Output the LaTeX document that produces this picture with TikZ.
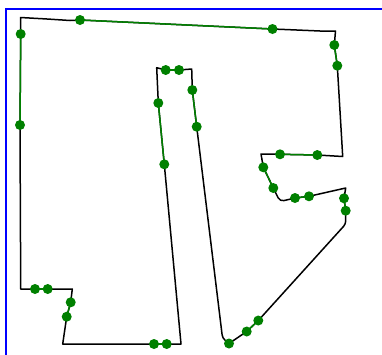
\documentclass[tikz,border=0pt]{standalone}
\definecolor{dotgreen}{RGB}{0,128,0}
\tikzset{
  dotnode/.style={circle,fill=dotgreen,draw=none,minimum size=10pt,inner sep=0pt},
  outline/.style={draw=black,line width=1.5pt,line join=round},
  greenseg/.style={draw=dotgreen,line width=1.5pt},
  frameline/.style={draw=blue,line width=2.2pt}
}
\begin{document}
\begin{tikzpicture}[x=1pt,y=-1pt]
\useasboundingbox (0,0) rectangle (382,354);
\clip (0,0) rectangle (382,354);
\draw[frameline] (6,370) -- (6,9) -- (400,9);
% corner coordinates
\coordinate (c1) at (20.5,17.5);
\coordinate (t1) at (47,19);
\coordinate (t2) at (70,20.5);
\coordinate (t3) at (296.7,30);
\coordinate (t4) at (320,31);
\coordinate (c2) at (335.5,31);
\coordinate (c3) at (342.7,156.5);
\coordinate (c4) at (261,154);
\coordinate (c5) at (280,201.5);
\coordinate (c6) at (345.7,188);
\coordinate (c7) at (345.7,224);
\coordinate (c8) at (222.5,338);
\coordinate (c10) at (191.7,69);
\coordinate (c11) at (156.7,67.7);
\coordinate (c12) at (181,344);
\coordinate (c13) at (62.7,344);
\coordinate (c14) at (72.3,289);
\coordinate (c15) at (20.7,289);
% dot positions
\coordinate (p1) at (80,20);
\coordinate (p2) at (272.5,29);
\coordinate (p3) at (334.3,45);
\coordinate (p4) at (337.3,65.7);
\coordinate (p5) at (317.3,155);
\coordinate (p6) at (280,154.3);
\coordinate (p7) at (263.3,167.3);
\coordinate (p8) at (273.3,188);
\coordinate (p9) at (295,198);
\coordinate (p10) at (309,196.3);
\coordinate (p11) at (344,198.3);
\coordinate (p12) at (345.7,210.7);
\coordinate (p13) at (258.3,320.5);
\coordinate (p14) at (246.7,331.5);
\coordinate (p15) at (229,343.5);
\coordinate (p16) at (196.7,126.7);
\coordinate (p17) at (192.3,90);
\coordinate (p18) at (179,70);
\coordinate (p19) at (165.7,70);
\coordinate (p20) at (158.3,103);
\coordinate (p21) at (164.3,164.3);
\coordinate (p22) at (166.7,344);
\coordinate (p23) at (154,344);
\coordinate (p24) at (66.7,316.7);
\coordinate (p25) at (70.7,302.3);
\coordinate (p26) at (47.7,289);
\coordinate (p27) at (35,289);
\coordinate (p28) at (20,125);
\coordinate (p29) at (20.7,34);
% black outline
\draw[outline] (c1) -- (t1) -- (t2) -- (p1) -- (p2) -- (t3) -- (t4) -- (c2) -- (p3) -- (p4)
  -- (c3) -- (p5) -- (p6) -- (c4) -- (p7) -- (p8) [rounded corners=4pt] -- (c5) -- (p9) [sharp corners]
  -- (p10) -- (c6) -- (p11) -- (p12) [rounded corners=3pt] -- (c7) -- (p13) -- (p14) -- (p15) -- (c8) [sharp corners]
  -- (p16) -- (p17) -- (c10) -- (p18) -- (p19) -- (c11) -- (p20) -- (p21) -- (c12) -- (p22) -- (p23)
  -- (c13) -- (p24) -- (p25) -- (c14) -- (p26) -- (p27) -- (c15) -- (p28) -- (p29) -- cycle;
% green segments
\foreach \a/\b in {p1/p2,p3/p4,p5/p6,p7/p8,p9/p10,p11/p12,p13/p14,p16/p17,p18/p19,p20/p21,p22/p23,p24/p25,p26/p27,p28/p29}
  \draw[greenseg] (\a) -- (\b);
% dots
\foreach \i in {1,...,29}
  \node[dotnode] (d\i) at (p\i) {};
\end{tikzpicture}
\end{document}
